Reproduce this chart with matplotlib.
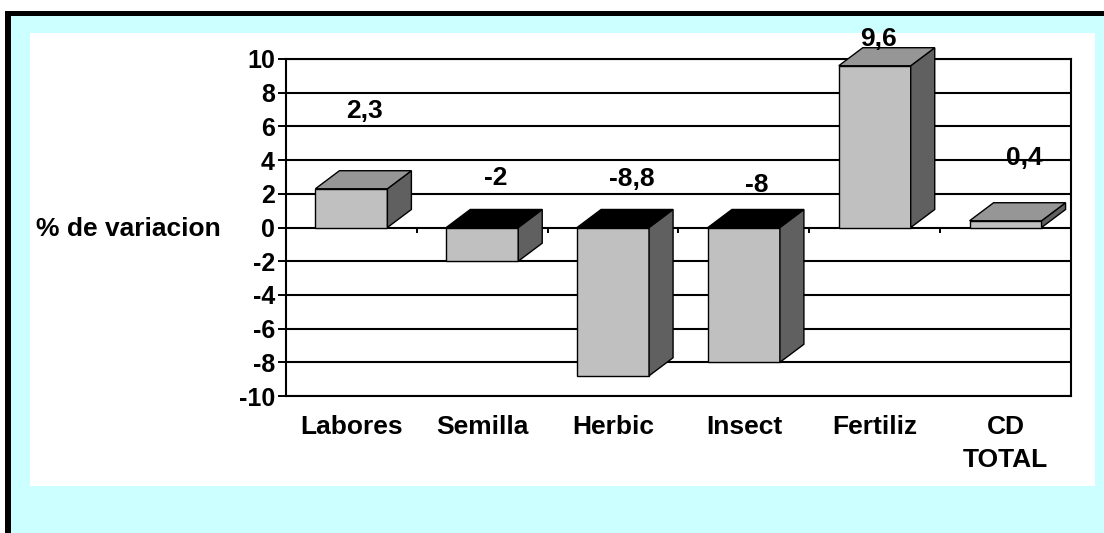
import matplotlib
matplotlib.use("Agg")
import matplotlib.pyplot as plt
from matplotlib.patches import Rectangle, Polygon

### Data ###
categories = ['Labores', 'Semilla', 'Herbic', 'Insect', 'Fertiliz', 'CD\nTOTAL']
values = [2.3, -2, -8.8, -8, 9.6, 0.4]
value_labels = ['2,3', '-2', '-8,8', '-8', '9,6', '0,4']
yticks = [-10, -8, -6, -4, -2, 0, 2, 4, 6, 8, 10]

# where excel dropped the labels (data units)
label_y = [6.9, 2.95, 2.85, 2.5, 11.2, 4.1]
label_dx = [0.1, 0.1, 0.14, 0.1, 0.03, 0.14]

plt.rcParams['font.family'] = ['Liberation Sans', 'DejaVu Sans']
plt.rcParams['font.weight'] = 'bold'

W, H = 1104, 533
fig = plt.figure(figsize=(W / 100, H / 100), dpi=100)
fig.patch.set_facecolor('white')

# frame: black border, cyan background, white panel
fig.add_artist(Rectangle((5 / W, 0), 1, (H - 11) / H, transform=fig.transFigure,
                         facecolor='black', edgecolor='none', zorder=-3))
fig.add_artist(Rectangle((11 / W, 0), 1, (H - 16) / H, transform=fig.transFigure,
                         facecolor='#CCFFFF', edgecolor='none', zorder=-2))
fig.add_artist(Rectangle((30 / W, (H - 486) / H), (1095 - 30) / W, (486 - 33) / H,
                         transform=fig.transFigure, facecolor='white', edgecolor='none', zorder=-1))

ax = fig.add_axes([286 / W, 1 - 396 / H, (1071 - 286) / W, (396 - 59) / H])
ax.set_facecolor('none')

x = list(range(len(values)))
bw = 0.55
dx, dy = 0.1835, 1.07

ax.bar(x, values, width=bw, color='#C0C0C0', edgecolor='black', linewidth=1, zorder=3)
for xi, v in zip(x, values):
	lo, hi = min(v, 0), max(v, 0)
	xl, xr = xi - bw / 2, xi + bw / 2
	side = Polygon([(xr, lo), (xr + dx, lo + dy), (xr + dx, hi + dy), (xr, hi)],
	               closed=True, facecolor='#606060', edgecolor='black', linewidth=1,
	               zorder=3, clip_on=False)
	top = Polygon([(xl, hi), (xr, hi), (xr + dx, hi + dy), (xl + dx, hi + dy)],
	              closed=True, facecolor='#969696' if v > 0 else 'black',
	              edgecolor='black', linewidth=1, zorder=3, clip_on=False)
	ax.add_patch(side)
	ax.add_patch(top)

for xi, lab, ly, ldx in zip(x, value_labels, label_y, label_dx):
	ax.text(xi + ldx, ly, lab, ha='center', va='center', fontsize=19,
	        fontweight='bold', zorder=5, clip_on=False)

ax.set_xlim(-0.5, len(values) - 0.5)
ax.set_ylim(-10, 10)
ax.set_yticks(yticks)
ax.set_yticklabels([str(t) for t in yticks], fontsize=18, fontweight='bold')
ax.set_xticks(x)
ax.set_xticklabels(categories, fontsize=19, fontweight='bold')
for lbl in ax.get_xticklabels():
	lbl.set_linespacing(1.45)
ax.tick_params(axis='y', length=6, width=1.4, pad=2, direction='out')
ax.tick_params(axis='x', length=0, pad=14)

for t in yticks:
	ax.axhline(t, color='black', linewidth=1.5, zorder=1)
# small ticks on the zero line between categories
ax.vlines([i + 0.5 for i in x[:-1]], -0.35, 0, color='black', linewidth=1.4, zorder=1)

for s in ax.spines.values():
	s.set_linewidth(1.5)
	s.set_color('black')

fig.text(128.5 / W, 1 - 228.5 / H, '% de variacion', ha='center', va='center',
         fontsize=19, fontweight='bold')

fig.savefig("out.png", dpi=100)
